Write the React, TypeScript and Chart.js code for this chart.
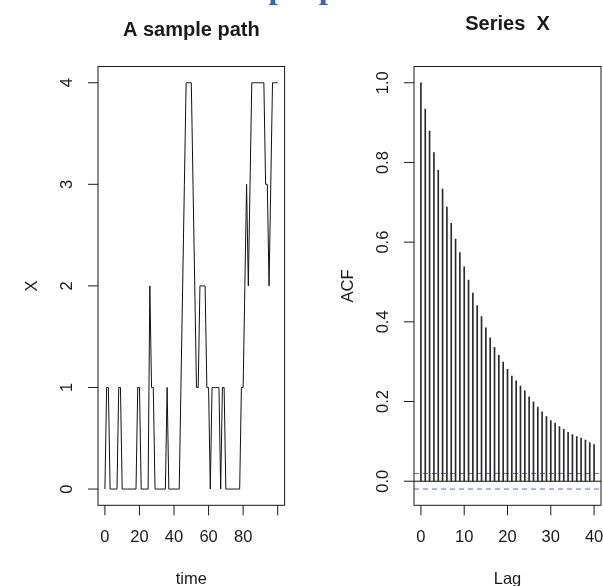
import { useEffect, useRef } from "react";
import { Chart, registerables } from "chart.js";

Chart.register(...registerables);

// ---- data: left panel (sample path) ----
const pathValues = [
  0, 1, 1, 0, 0, 0, 0, 0, 1, 1,
  0, 0, 0, 0, 0, 0, 0, 0, 0, 1,
  1, 0, 0, 0, 0, 0, 2, 1, 1, 0,
  0, 0, 0, 0, 0, 0, 1, 0, 0, 0,
  0, 0, 0, 0, 1, 2, 3, 4, 4, 4,
  4, 3, 2, 1, 1, 2, 2, 2, 2, 1,
  1, 0, 1, 1, 1, 1, 1, 0, 1, 1,
  0, 0, 0, 0, 0, 0, 0, 0, 0, 1,
  1, 2, 3, 2, 3, 4, 4, 4, 4, 4,
  4, 4, 4, 3, 3, 2, 3, 4, 4, 4,
  4,
];
const pathXTickMarks = [0, 20, 40, 60, 80, 100];
const pathXTickLabels = ["0", "20", "40", "60", "80", ""];
const pathYTicks = [0, 1, 2, 3, 4];
const pathYTickLabels = ["0", "1", "2", "3", "4"];

// ---- data: right panel (ACF) ----
const acfValues = [
  1.0, 0.934, 0.879, 0.825, 0.78, 0.733, 0.688, 0.647, 0.608, 0.574,
  0.538, 0.505, 0.472, 0.441, 0.413, 0.385, 0.36, 0.336, 0.316, 0.299,
  0.281, 0.264, 0.252, 0.239, 0.227, 0.212, 0.199, 0.186, 0.174, 0.162,
  0.152, 0.146, 0.137, 0.13, 0.123, 0.117, 0.112, 0.108, 0.103, 0.097,
  0.092,
];
const acfXTicks = [0, 10, 20, 30, 40];
const acfXTickLabels = ["0", "10", "20", "30", "40"];
const acfYTicks = [0, 0.2, 0.4, 0.6, 0.8, 1.0];
const acfYTickLabels = ["0.0", "0.2", "0.4", "0.6", "0.8", "1.0"];
const ciBound = 0.0196;

const W = 603;
const H = 586;
const FONT = '"Liberation Sans", Arial, Helvetica, sans-serif';
const INK = "#1a1a1a";

type Decor = {
  title: string;
  titleBaseline: number;
  xTicks: number[];
  xLabels: string[];
  yTicks: number[];
  yLabels: string[];
  xTitle: string;
  yTitle: string;
  banner?: boolean;
};

function decorPlugin(d: Decor) {
  return {
    id: "rdecor",
    afterDraw(chart: any) {
      const { ctx, chartArea: a } = chart;
      const xs = chart.scales.x;
      const ys = chart.scales.y;
      ctx.save();
      ctx.strokeStyle = INK;
      ctx.lineWidth = 1;
      ctx.strokeRect(a.left, a.top, a.right - a.left, a.bottom - a.top);
      ctx.beginPath();
      for (const v of d.xTicks) {
        const px = xs.getPixelForValue(v);
        ctx.moveTo(px, a.bottom);
        ctx.lineTo(px, a.bottom + 10);
      }
      for (const v of d.yTicks) {
        const py = ys.getPixelForValue(v);
        ctx.moveTo(a.left, py);
        ctx.lineTo(a.left - 10, py);
      }
      ctx.stroke();

      ctx.fillStyle = INK;
      ctx.font = `16.5px ${FONT}`;
      ctx.textAlign = "center";
      ctx.textBaseline = "middle";
      d.xTicks.forEach((v, i) => {
        if (!d.xLabels[i]) return;
        ctx.fillText(d.xLabels[i], xs.getPixelForValue(v), a.bottom + 32.5);
      });
      d.yTicks.forEach((v, i) => {
        ctx.save();
        ctx.translate(a.left - 31, ys.getPixelForValue(v));
        ctx.rotate(-Math.PI / 2);
        ctx.fillText(d.yLabels[i], 0, 0);
        ctx.restore();
      });
      const cx = (a.left + a.right) / 2;
      const cy = (a.top + a.bottom) / 2;
      ctx.textBaseline = "alphabetic";
      ctx.fillText(d.xTitle, cx, 584);
      ctx.save();
      ctx.translate(a.left - 66, cy);
      ctx.rotate(-Math.PI / 2);
      ctx.textBaseline = "middle";
      ctx.fillText(d.yTitle, 0, 0);
      ctx.restore();

      ctx.font = `bold 20px ${FONT}`;
      ctx.textBaseline = "alphabetic";
      ctx.fillText(d.title, cx, d.titleBaseline);

      if (d.banner) {
        ctx.font = 'bold 33px "Liberation Serif", "Times New Roman", serif';
        ctx.fillStyle = "#3566b5";
        ctx.textAlign = "left";
        ctx.textBaseline = "alphabetic";
        const off = ctx.measureText("A sam").width;
        ctx.fillText("A sample path", 272 - off - 3.6, -2.5);
      }
      ctx.restore();
    },
  };
}

export default function App() {
  const leftRef = useRef<HTMLCanvasElement>(null);
  const rightRef = useRef<HTMLCanvasElement>(null);

  useEffect(() => {
    const left = new Chart(leftRef.current as HTMLCanvasElement, {
      type: "line",
      data: {
        datasets: [
          {
            data: pathValues.map((v, i) => ({ x: i, y: v })),
            borderColor: "#111",
            borderWidth: 1,
            pointRadius: 0,
            tension: 0,
            fill: false,
          },
        ],
      },
      options: {
        animation: false,
        responsive: false,
        events: [],
        layout: { padding: { left: 98, right: W - 284.6, top: 66.5, bottom: H - 505.3 } },
        plugins: { legend: { display: false }, tooltip: { enabled: false } },
        scales: {
          x: { type: "linear", min: -4, max: 104, display: false, offset: false },
          y: { type: "linear", min: -0.16, max: 4.16, display: false },
        },
      },
      plugins: [
        decorPlugin({
          title: "A sample path",
          titleBaseline: 36,
          xTicks: pathXTickMarks,
          xLabels: pathXTickLabels,
          yTicks: pathYTicks,
          yLabels: pathYTickLabels,
          xTitle: "time",
          yTitle: "X",
          banner: true,
        }),
      ],
    } as any);

    const right = new Chart(rightRef.current as HTMLCanvasElement, {
      type: "bar",
      data: {
        datasets: [
          {
            type: "bar",
            data: acfValues.map((v, i) => ({ x: i, y: v })),
            backgroundColor: "#2a2a2a",
            barThickness: 1,
            borderWidth: 0,
          },
          {
            type: "line",
            data: [
              { x: -1.6, y: 0 },
              { x: 41.6, y: 0 },
            ],
            borderColor: "#111",
            borderWidth: 1,
            pointRadius: 0,
          },
          {
            type: "line",
            data: [
              { x: -1.6, y: ciBound },
              { x: 41.6, y: ciBound },
            ],
            borderColor: "#4f74c2",
            borderWidth: 1,
            borderDash: [5, 4],
            pointRadius: 0,
          },
          {
            type: "line",
            data: [
              { x: -1.6, y: -ciBound },
              { x: 41.6, y: -ciBound },
            ],
            borderColor: "#4f74c2",
            borderWidth: 1,
            borderDash: [5, 4],
            pointRadius: 0,
          },
        ],
      },
      options: {
        animation: false,
        responsive: false,
        events: [],
        layout: { padding: { left: 414, right: W - 601, top: 66.5, bottom: H - 505.3 } },
        plugins: { legend: { display: false }, tooltip: { enabled: false } },
        scales: {
          x: { type: "linear", min: -1.6, max: 41.6, display: false, offset: false },
          y: { type: "linear", min: -0.0604, max: 1.0408, display: false },
        },
      },
      plugins: [
        decorPlugin({
          title: "Series  X",
          titleBaseline: 30,
          xTicks: acfXTicks,
          xLabels: acfXTickLabels,
          yTicks: acfYTicks,
          yLabels: acfYTickLabels,
          xTitle: "Lag",
          yTitle: "ACF",
        }),
      ],
    } as any);

    return () => {
      left.destroy();
      right.destroy();
    };
  }, []);

  return (
    <div style={{ position: "absolute", left: 0, top: 0, width: W, height: H, background: "#fff" }}>
      <canvas ref={leftRef} width={W} height={H} style={{ position: "absolute", left: 0, top: 0 }} />
      <canvas ref={rightRef} width={W} height={H} style={{ position: "absolute", left: 0, top: 0 }} />
    </div>
  );
}
